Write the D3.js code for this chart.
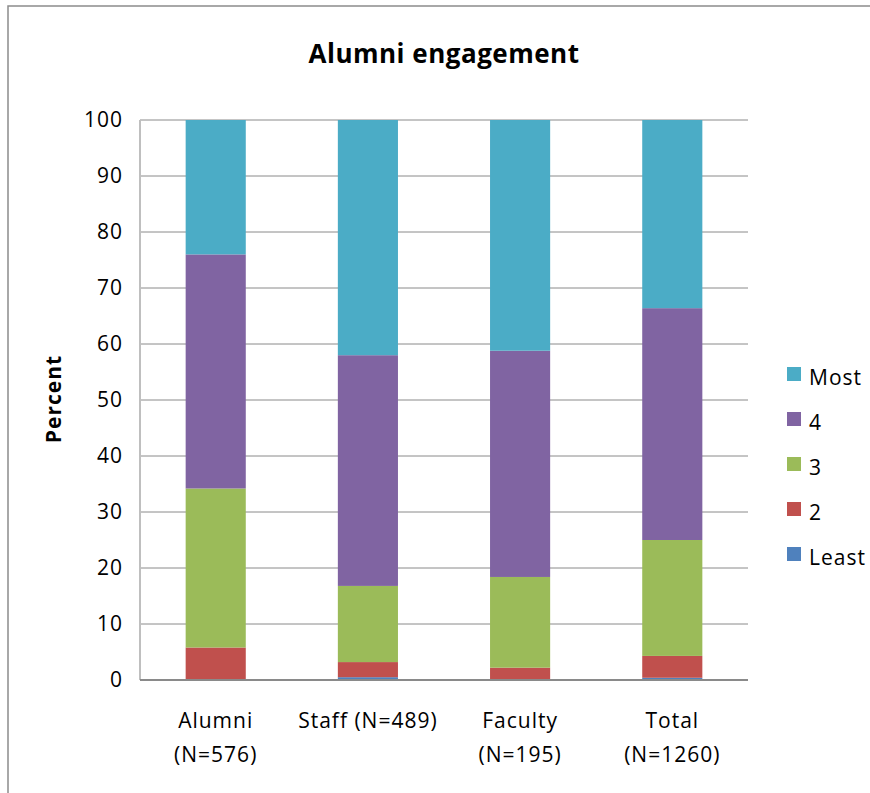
<!DOCTYPE html>
<html>
<head>
<meta charset="utf-8">
<script src="https://cdn.jsdelivr.net/npm/d3@7"></script>
<style>
  body { margin: 0; background: #fff; }
  svg text { font-family: "Open Sans", "Noto Sans", sans-serif; fill: #000; }
</style>
</head>
<body>
<svg id="chart" width="870" height="793"></svg>
<script>
// categories and the share of each answer level (percent)
const categories = ['Alumni (N=576)', 'Staff (N=489)', 'Faculty (N=195)', 'Total (N=1260)'];
const categoryLines = [['Alumni', '(N=576)'], ['Staff (N=489)'], ['Faculty', '(N=195)'], ['Total', '(N=1260)']];
const levels = ['Least', '2', '3', '4', 'Most'];
const least = [0.0, 0.5, 0.0, 0.4];
const two = [5.8, 2.7, 2.2, 3.9];
const three = [28.4, 13.6, 16.2, 20.7];
const four = [41.8, 41.2, 40.4, 41.4];
const most = [24.0, 42.0, 41.2, 33.6];
const yTicks = [0, 10, 20, 30, 40, 50, 60, 70, 80, 90, 100];
const colors = ['#4f81bd', '#c0504d', '#9bbb59', '#8064a2', '#4bacc6'];

const rows = categories.map((c, i) => ({
  cat: c, Least: least[i], '2': two[i], '3': three[i], '4': four[i], Most: most[i]
}));

const svg = d3.select('#chart');
const margin = { left: 140, top: 120, right: 122, bottom: 113 };
const w = 870 - margin.left - margin.right;
const h = 793 - margin.top - margin.bottom;

// outer chart border
svg.append('rect')
  .attr('x', 8).attr('y', 6)
  .attr('width', 880).attr('height', 800)
  .attr('fill', 'none')
  .attr('stroke', '#8c8c8c')
  .attr('stroke-width', 1.5);

const x = d3.scaleBand().domain(categories).range([0, w]).paddingInner(0.605).paddingOuter(0.3);
const y = d3.scaleLinear().domain([0, 100]).range([h, 0]);

const g = svg.append('g').attr('transform', `translate(${margin.left},${margin.top})`);

// gridlines
g.selectAll('.grid').data(yTicks.slice(1)).enter().append('line')
  .attr('x1', 0).attr('x2', w)
  .attr('y1', d => y(d)).attr('y2', d => y(d))
  .attr('stroke', '#8a8a8a').attr('stroke-width', 1);

const stack = d3.stack().keys(levels);
const series = stack(rows);

g.selectAll('.series').data(series).enter().append('g')
  .attr('fill', (d, i) => colors[i])
  .selectAll('rect').data(d => d).enter().append('rect')
  .attr('x', d => x(d.data.cat))
  .attr('width', x.bandwidth())
  .attr('y', d => y(d[1]))
  .attr('height', d => y(d[0]) - y(d[1]));

// axes lines
g.append('line').attr('x1', 0).attr('x2', 0).attr('y1', 0).attr('y2', h)
  .attr('stroke', '#bfbfbf').attr('stroke-width', 2);
g.append('line').attr('x1', 0).attr('x2', w).attr('y1', h).attr('y2', h)
  .attr('stroke', '#8a8a8a').attr('stroke-width', 2);

// y tick labels
const yAxis = d3.axisLeft(y).tickValues(yTicks).tickSize(0).tickPadding(17);
const ya = g.append('g').call(yAxis);
ya.select('.domain').remove();
ya.selectAll('text')
  .attr('font-size', 21).attr('letter-spacing', 1)
  .style('font-family', '"Open Sans", sans-serif').attr('fill', '#000');

// x category labels
categories.forEach((c, i) => {
  const cx = x(c) + x.bandwidth() / 2;
  const t = g.append('text')
    .attr('x', cx)
    .attr('y', h + 48)
    .attr('text-anchor', 'middle')
    .attr('font-size', 21)
    .attr('letter-spacing', 1);
  categoryLines[i].forEach((line, j) => {
    t.append('tspan').attr('x', cx).attr('dy', j === 0 ? 0 : 34).text(line);
  });
});

// title
svg.append('text')
  .attr('x', 444).attr('y', 63)
  .attr('text-anchor', 'middle')
  .attr('font-size', 26).attr('font-weight', 'bold')
  .attr('letter-spacing', 0.5)
  .text('Alumni engagement');

// y axis title
svg.append('text')
  .attr('transform', 'translate(61,399) rotate(-90)')
  .attr('text-anchor', 'middle')
  .attr('font-size', 21).attr('font-weight', 'bold')
  .attr('letter-spacing', 1)
  .text('Percent');

// legend, Most on top
const legendItems = levels.slice().reverse();
const legend = svg.append('g').attr('transform', 'translate(787,378)');
legendItems.forEach((name, i) => {
  const row = legend.append('g').attr('transform', `translate(0,${i * 45})`);
  row.append('rect').attr('x', 0).attr('y', -11).attr('width', 14).attr('height', 14)
    .attr('fill', colors[levels.indexOf(name)]);
  row.append('text').attr('x', 22).attr('y', 7)
    .attr('font-size', 21).attr('letter-spacing', 1).text(name);
});
</script>
</body>
</html>
